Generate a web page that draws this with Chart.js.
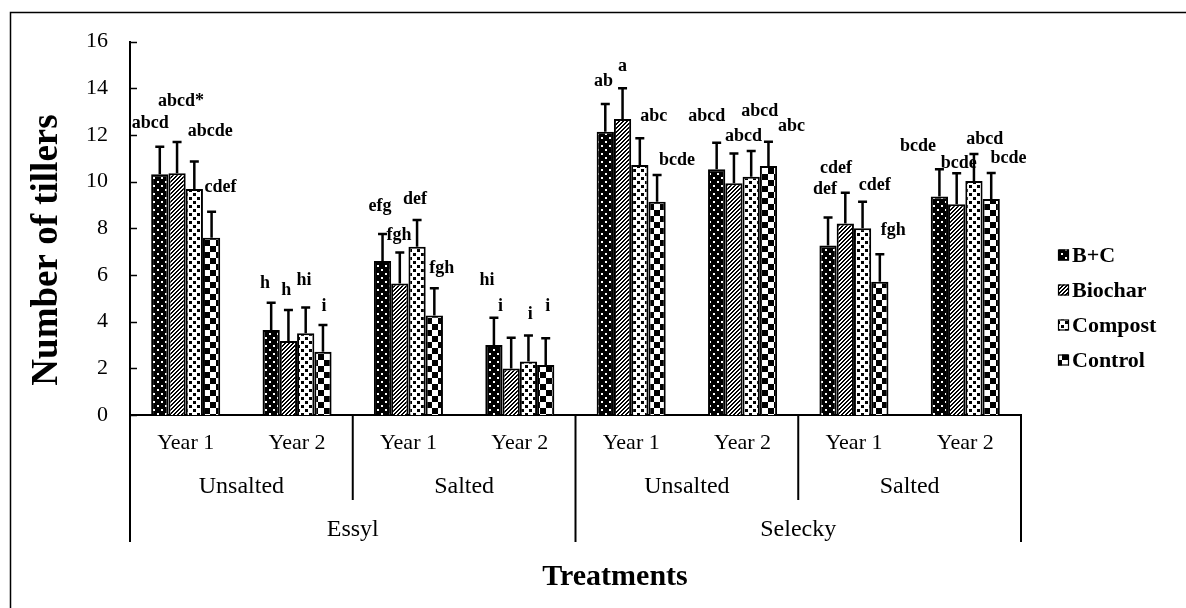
<!DOCTYPE html>
<html>
<head>
<meta charset="utf-8">
<script src="https://cdn.jsdelivr.net/npm/chart.js@4.4.1/dist/chart.umd.min.js"></script>
<style>
  html, body { margin: 0; padding: 0; background: #fff; }
  #wrap { width: 1186px; height: 608px; }
</style>
</head>
<body>
<div id="wrap"><canvas id="c" width="1186" height="608"></canvas></div>
<script>
// ---------- data ----------
const years = ['Year 1', 'Year 2', 'Year 1', 'Year 2', 'Year 1', 'Year 2', 'Year 1', 'Year 2'];
const salinity = ['Unsalted', 'Salted', 'Unsalted', 'Salted'];
const cultivars = ['Essyl', 'Selecky'];
const treatments = ['B+C', 'Biochar', 'Compost', 'Control'];

const bcValues      = [10.32, 3.64, 6.60, 3.00, 12.14, 10.53, 7.26, 9.36];
const biocharValues = [10.36, 3.17, 5.64, 1.99, 12.69,  9.93, 8.21, 9.03];
const compostValues = [ 9.69, 3.50, 7.21, 2.29, 10.71, 10.21, 8.00, 10.03];
const controlValues = [ 7.60, 2.71, 4.27, 2.14,  9.14, 10.67, 5.71, 9.26];

const bcErr      = [1.18, 1.17, 1.16, 1.17, 1.19, 1.14, 1.20, 1.17];
const biocharErr = [1.34, 1.33, 1.32, 1.32, 1.31, 1.28, 1.32, 1.33];
const compostErr = [1.17, 1.11, 1.15, 1.12, 1.15, 1.10, 1.14, 1.16];
const controlErr = [1.11, 1.15, 1.16, 1.15, 1.15, 1.04, 1.18, 1.11];

const bcLetters      = ['abcd', 'h', 'efg', 'hi', 'ab', 'abcd', 'def', 'bcde'];
const biocharLetters = ['abcd*', 'h', 'fgh', 'i', 'a', 'abcd', 'cdef', 'bcde'];
const compostLetters = ['abcde', 'hi', 'def', 'i', 'abc', 'abcd', 'cdef', 'abcd'];
const controlLetters = ['cdef', 'i', 'fgh', 'i', 'bcde', 'abc', 'fgh', 'bcde'];

// letter anchors: height in axis units, sideways nudge in bar widths
const bcLetterY      = [12.50, 5.64, 8.93, 5.79, 14.29, 12.82, 9.67, 11.50];
const biocharLetterY = [13.43, 5.33, 7.71, 4.64, 14.96, 11.96, 10.57, 10.79];
const compostLetterY = [12.14, 5.79, 9.26, 4.31, 12.82, 13.00, 9.86, 11.82];
const controlLetterY = [ 9.76, 4.64, 6.29, 4.64, 10.93, 12.39, 7.90, 11.00];
const bcLetterDX      = [-0.55, -0.35, -0.15, -0.40, -0.10, -0.57, -0.17, -1.24];
const biocharLetterDX = [ 0.23, -0.12, -0.05, -0.62,  0.00,  0.55, -0.54,  0.12];
const compostLetterDX = [ 0.92, -0.10, -0.12,  0.10,  0.80,  0.50,  0.70,  0.63];
const controlLetterDX = [ 0.52,  0.06,  0.43,  0.12,  1.15,  1.34,  0.78,  1.00];

const yTicks = [0, 2, 4, 6, 8, 10, 12, 14, 16];

// ---------- patterns ----------
const FONT = '"Liberation Serif", "Times New Roman", serif';
function tile(w, h, draw) {
  const c = document.createElement('canvas');
  c.width = w; c.height = h;
  const g = c.getContext('2d');
  draw(g);
  return document.getElementById('c').getContext('2d').createPattern(c, 'repeat');
}
const patBC = tile(8, 8, g => {
  g.fillStyle = '#000'; g.fillRect(0, 0, 8, 8);
  g.fillStyle = '#fff'; g.fillRect(1, 1, 2, 2); g.fillRect(5, 5, 2, 2);
});
const patBiochar = tile(4, 4, g => {
  g.fillStyle = '#fff'; g.fillRect(0, 0, 4, 4);
  g.fillStyle = '#000';
  for (let i = 0; i < 4; i++) {
    g.fillRect(i, (3 - i + 4) % 4, 1, 1);
    g.fillRect(i, (4 - i + 4) % 4, 1, 1);
  }
});
const patCompost = tile(8, 8, g => {
  g.fillStyle = '#fff'; g.fillRect(0, 0, 8, 8);
  g.fillStyle = '#000'; g.fillRect(1, 1, 3, 3); g.fillRect(5, 5, 3, 3);
});
const patControl = tile(12, 12, g => {
  g.fillStyle = '#fff'; g.fillRect(0, 0, 12, 12);
  g.fillStyle = '#000'; g.fillRect(0, 0, 6, 6); g.fillRect(6, 6, 6, 6);
});

const seriesValues = [bcValues, biocharValues, compostValues, controlValues];
const seriesErr = [bcErr, biocharErr, compostErr, controlErr];
const seriesLetters = [bcLetters, biocharLetters, compostLetters, controlLetters];
const seriesLetterY = [bcLetterY, biocharLetterY, compostLetterY, controlLetterY];
const seriesLetterDX = [bcLetterDX, biocharLetterDX, compostLetterDX, controlLetterDX];
const seriesPatterns = [patBC, patBiochar, patCompost, patControl];

const datasets = treatments.map((t, i) => ({
  label: t,
  data: seriesValues[i],
  backgroundColor: seriesPatterns[i],
  borderColor: '#000',
  borderWidth: 2,
  categoryPercentage: 0.62,
  barPercentage: 1.0
}));

// ---------- plugins ----------
const decorations = {
  id: 'decorations',
  beforeDraw(chart) {
    const ctx = chart.ctx;
    ctx.save();
    ctx.fillStyle = '#fff';
    ctx.fillRect(0, 0, chart.width, chart.height);
    ctx.strokeStyle = '#000';
    ctx.lineWidth = 1.5;
    ctx.strokeRect(10.5, 12.5, 1400, 800);
    ctx.restore();
  },
  afterDatasetsDraw(chart) {
    const ctx = chart.ctx;
    const ys = chart.scales.y;
    ctx.save();
    // error bars (positive direction only)
    ctx.strokeStyle = '#000';
    ctx.lineWidth = 2.5;
    chart.data.datasets.forEach((ds, di) => {
      const meta = chart.getDatasetMeta(di);
      meta.data.forEach((el, i) => {
        const top = ys.getPixelForValue(ds.data[i] + seriesErr[di][i]);
        ctx.beginPath();
        ctx.moveTo(el.x, el.y);
        ctx.lineTo(el.x, top);
        ctx.moveTo(el.x - 4.5, top);
        ctx.lineTo(el.x + 4.5, top);
        ctx.stroke();
      });
    });
    // significance letters
    ctx.fillStyle = '#000';
    ctx.font = 'bold 18px ' + FONT;
    ctx.textAlign = 'center';
    ctx.textBaseline = 'middle';
    chart.data.datasets.forEach((ds, di) => {
      const meta = chart.getDatasetMeta(di);
      meta.data.forEach((el, i) => {
        const x = el.x + seriesLetterDX[di][i] * el.width;
        ctx.fillText(seriesLetters[di][i], x, ys.getPixelForValue(seriesLetterY[di][i]));
      });
    });
    ctx.restore();
  },
  afterDraw(chart) {
    const ctx = chart.ctx;
    const xs = chart.scales.x, ys = chart.scales.y;
    const area = chart.chartArea;
    const base = area.bottom;
    ctx.save();
    ctx.strokeStyle = '#000';
    ctx.fillStyle = '#000';
    // inward y ticks
    ctx.lineWidth = 1.5;
    yTicks.forEach(v => {
      const p = Math.round(ys.getPixelForValue(v)) + 0.5;
      ctx.beginPath();
      ctx.moveTo(area.left, p);
      ctx.lineTo(area.left + 7, p);
      ctx.stroke();
    });
    // hierarchical category axis
    const n = years.length;
    const boundary = k => {
      if (k <= 0) return area.left;
      if (k >= n) return area.right;
      return (xs.getPixelForValue(k - 1) + xs.getPixelForValue(k)) / 2;
    };
    ctx.lineWidth = 2;
    const vline = (x, y2) => {
      ctx.beginPath();
      ctx.moveTo(x, base);
      ctx.lineTo(x, y2);
      ctx.stroke();
    };
    const perSalt = n / salinity.length;
    const perCult = n / cultivars.length;
    for (let k = 0; k <= n; k += perSalt) {
      const deep = (k % perCult === 0);
      vline(boundary(k), deep ? base + 127 : base + 85);
    }
    ctx.textAlign = 'center';
    ctx.textBaseline = 'middle';
    ctx.font = '22px ' + FONT;
    years.forEach((t, i) => ctx.fillText(t, xs.getPixelForValue(i), base + 28));
    ctx.font = '24px ' + FONT;
    salinity.forEach((t, j) => {
      const c = (boundary(j * perSalt) + boundary((j + 1) * perSalt)) / 2;
      ctx.fillText(t, c, base + 72);
    });
    cultivars.forEach((t, j) => {
      const c = (boundary(j * perCult) + boundary((j + 1) * perCult)) / 2;
      ctx.fillText(t, c, base + 115);
    });
    // axis titles
    ctx.font = 'bold 30px ' + FONT;
    ctx.fillText('Treatments', 615, 577);
    ctx.save();
    ctx.translate(47, 250);
    ctx.rotate(-Math.PI / 2);
    ctx.font = 'bold 37px ' + FONT;
    ctx.fillText('Number of tillers', 0, 0);
    ctx.restore();
    // legend
    ctx.textAlign = 'left';
    ctx.font = 'bold 22px ' + FONT;
    chart.data.datasets.forEach((ds, i) => {
      const cy = 255 + 35 * i;
      ctx.fillStyle = ds.backgroundColor;
      ctx.fillRect(1058, cy - 5.5, 11, 11);
      ctx.lineWidth = 1.2;
      ctx.strokeRect(1058.5, cy - 5, 10, 10);
      ctx.fillStyle = '#000';
      ctx.fillText(ds.label, 1072, cy + 1);
    });
    ctx.restore();
  }
};

new Chart(document.getElementById('c'), {
  type: 'bar',
  data: { labels: years, datasets },
  plugins: [decorations],
  options: {
    responsive: false,
    animation: false,
    devicePixelRatio: 1,
    layout: { padding: { top: 41.7, right: 165, bottom: 0, left: 0 } },
    plugins: { legend: { display: false }, tooltip: { enabled: false } },
    scales: {
      x: {
        ticks: { display: false },
        grid: { display: false, drawTicks: false },
        border: { display: true, color: '#000', width: 2 },
        afterFit(s) { s.height = 193; }
      },
      y: {
        min: 0, max: 16,
        afterBuildTicks(s) { s.ticks = yTicks.map(v => ({ value: v })); },
        ticks: { color: '#000', font: { family: FONT, size: 22 }, padding: 22 },
        grid: { display: false, drawTicks: false },
        border: { display: true, color: '#000', width: 2 },
        afterFit(s) { s.width = 130; }
      }
    }
  }
});
</script>
</body>
</html>
